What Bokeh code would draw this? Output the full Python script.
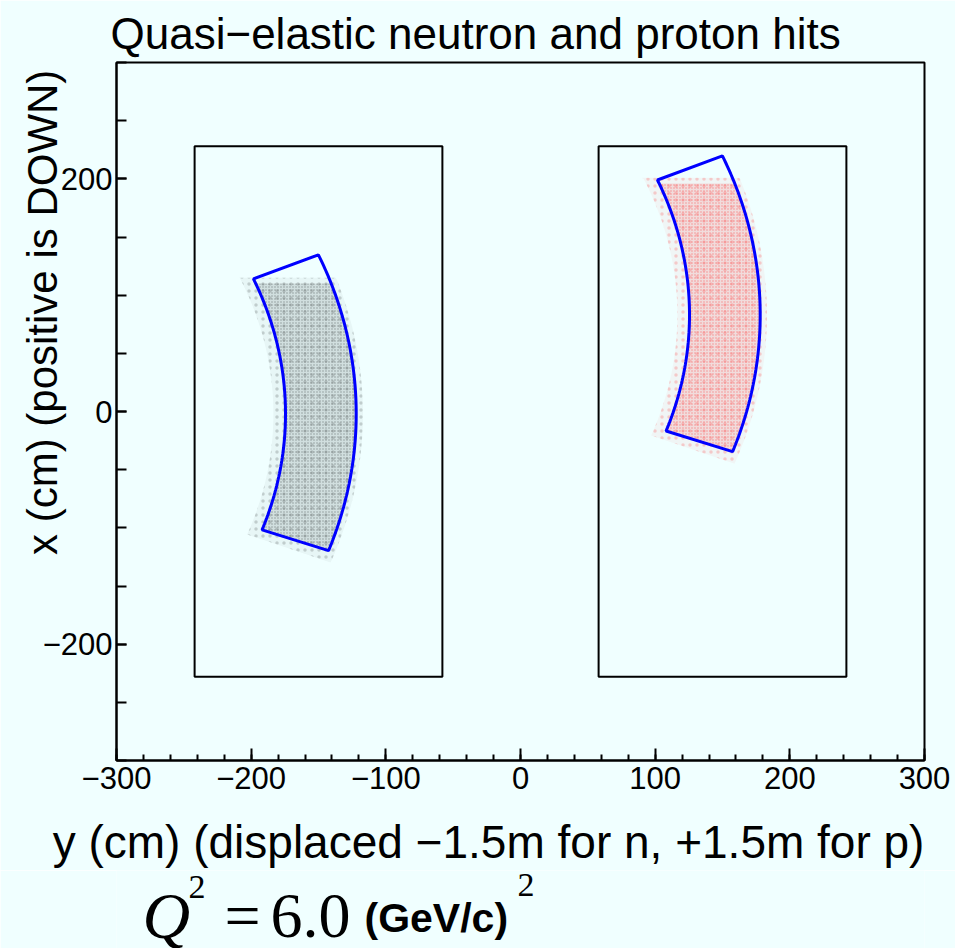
import numpy as np
from bokeh.plotting import figure
from bokeh.models import Range1d, FixedTicker, Label
from bokeh.layouts import column
from bokeh.embed import file_html
from bokeh.resources import INLINE

# ---------------- data ----------------
x_ticks = [-300, -200, -100, 0, 100, 200, 300]
x_tick_labels = ["\u2212300", "\u2212200", "\u2212100", "0", "100", "200", "300"]
x_minor_ticks = list(range(-300, 301, 20))
y_ticks = [-200, 0, 200]
y_tick_labels = ["\u2212200", "0", "200"]
y_minor_ticks = list(range(-300, 301, 50))

# detector outlines (cm): neutron (left), proton (right)
det_x_min = [-242, 58]
det_x_max = [-58, 242]
det_y_min = [-228, -228]
det_y_max = [228, 228]

# blue acceptance sectors: arc centre, radii, angular range (deg)
sector_cx = [-469, -169]
sector_cy = [-2, 83]
sector_r_in = [294.5, 294.5]
sector_r_out = [347, 347]
sector_a_min = [-19.8, -19.8]
sector_a_max = [23.2, 23.2]

# hit clouds (density regions): colour, upper edge of the populated region
cloud_names = ["neutron", "proton"]
cloud_colors = ["#111111", "#ff0000"]
cloud_y_top = [110, 196]

title_text = "Quasi\u2212elastic neutron and proton hits"
xlabel_text = "y (cm) (displaced \u22121.5m for n, +1.5m for p)"
ylabel_text = "x (cm) (positive is DOWN)"

BG = "#f0ffff"
NBSP = "\u00a0"

# ---------------- main figure ----------------
W, H1, H2 = 955, 870, 78
FL, FR = 116, 924          # page x of the frame edges
p = figure(width=W, height=H1, x_range=Range1d(-300, 300), y_range=Range1d(-300, 300),
           output_backend="svg", toolbar_location=None,
           min_border_left=FL, min_border_right=W - FR, min_border_top=62, min_border_bottom=107)
p.background_fill_color = BG
p.border_fill_color = BG
p.outline_line_color = "black"
p.outline_line_width = 2
p.xgrid.visible = False
p.ygrid.visible = False

p.title.text = title_text
p.title.text_font = "Liberation Sans"
p.title.text_font_size = "44px"
p.title.text_font_style = "normal"
p.title.text_color = "black"
p.title.align = "left"
p.title.offset = -6
p.title.standoff = 10

for ax, ticks, minors, labels, standoff, tin, mtin in (
        (p.xaxis[0], x_ticks, x_minor_ticks, x_tick_labels, 6, 12, 6),
        (p.yaxis[0], y_ticks, y_minor_ticks, y_tick_labels, 4, 10, 10)):
    ax.ticker = FixedTicker(ticks=ticks, minor_ticks=minors)
    ax.major_label_overrides = {float(t): l for t, l in zip(ticks, labels)}
    ax.major_tick_in = tin
    ax.major_tick_out = 0
    ax.minor_tick_in = mtin
    ax.minor_tick_out = 0
    ax.axis_line_width = 2
    ax.major_tick_line_width = 2
    ax.minor_tick_line_width = 2
    ax.major_label_text_font = "Liberation Sans"
    ax.major_label_text_font_size = "31px"
    ax.major_label_text_color = "black"
    ax.major_label_standoff = standoff
    ax.axis_label_text_font = "Liberation Sans"
    ax.axis_label_text_font_style = "normal"
    ax.axis_label_text_color = "black"
    ax.axis_label_align = "center"

# ROOT right-aligns axis titles to the axis end; pad with no-break spaces
p.xaxis[0].axis_label = xlabel_text + NBSP * 5
p.xaxis[0].axis_label_text_font_size = "46px"
p.xaxis[0].axis_label_standoff = 24
p.yaxis[0].axis_label = NBSP * 17 + ylabel_text
p.yaxis[0].axis_label_text_font_size = "42px"
p.yaxis[0].axis_label_standoff = -26


def sector(cx, cy, r0, r1, a0, a1, ytop=None, n=80):
    t = np.radians(np.linspace(a0, a1, n))
    xs = np.concatenate([cx + r0 * np.cos(t), cx + r1 * np.cos(t[::-1])])
    ys = np.concatenate([cy + r0 * np.sin(t), cy + r1 * np.sin(t[::-1])])
    if ytop is not None:
        ys = np.minimum(ys, ytop)
    return list(xs), list(ys)


# clouds: sparse halo + dense core (stippled)
for i in range(2):
    hx, hy = sector(sector_cx[i], sector_cy[i], sector_r_in[i] - 9, sector_r_out[i] + 5,
                    sector_a_min[i] - 1.5, sector_a_max[i] + 1.5, cloud_y_top[i] + 5)
    p.patch(hx, hy, fill_color=cloud_colors[i], fill_alpha=0.04, line_color=None,
            hatch_pattern="dot", hatch_scale=7, hatch_color=cloud_colors[i], hatch_alpha=0.18)
    cx_, cy_ = sector(sector_cx[i], sector_cy[i], sector_r_in[i], sector_r_out[i],
                      sector_a_min[i], sector_a_max[i], cloud_y_top[i])
    p.patch(cx_, cy_, fill_color=cloud_colors[i], fill_alpha=0.10, line_color=None,
            hatch_pattern="dot", hatch_scale=3, hatch_color=cloud_colors[i], hatch_alpha=0.35)

# detector outlines
p.quad(left=det_x_min, right=det_x_max, bottom=det_y_min, top=det_y_max,
       fill_color=None, line_color="black", line_width=2)

# acceptance sectors
sx, sy = [], []
for i in range(2):
    a, b = sector(sector_cx[i], sector_cy[i], sector_r_in[i], sector_r_out[i],
                  sector_a_min[i], sector_a_max[i])
    sx.append(a)
    sy.append(b)
p.patches(sx, sy, fill_color=None, line_color="#0000ff", line_width=3)

# ---------------- Q^2 caption strip (frame aligned with the main frame) ----------------
q = figure(frame_width=FR - FL, frame_height=H2, x_range=Range1d(FL, FR), y_range=Range1d(0, H2),
           output_backend="svg", toolbar_location=None, title=None,
           x_axis_type=None, y_axis_type=None,
           min_border_left=FL, min_border_right=W - FR, min_border_top=0, min_border_bottom=0)
q.grid.visible = False
q.outline_line_color = None
q.background_fill_color = BG
q.border_fill_color = BG


def lab(text, X, Y, size, font="Liberation Serif", style="normal"):
    # X: page x of the text start, Y: page-referenced anchor height
    q.add_layout(Label(x=X, y=H1 + H2 - Y, text=text, text_font=font, text_font_size=size,
                       text_font_style=style, text_align="left", text_baseline="alphabetic",
                       text_color="black"))


lab("Q", 142, 915, "66px", style="italic")
lab("2", 188, 886, "34px")
lab("=", 224, 915, "64px")
lab("6.0", 270, 915, "64px")
lab("(GeV/c)", 364, 917, "41px", font="Liberation Sans", style="bold")
lab("2", 517, 884, "34px")

open("out.html", "w").write(file_html(column(p, q, spacing=0), INLINE))
